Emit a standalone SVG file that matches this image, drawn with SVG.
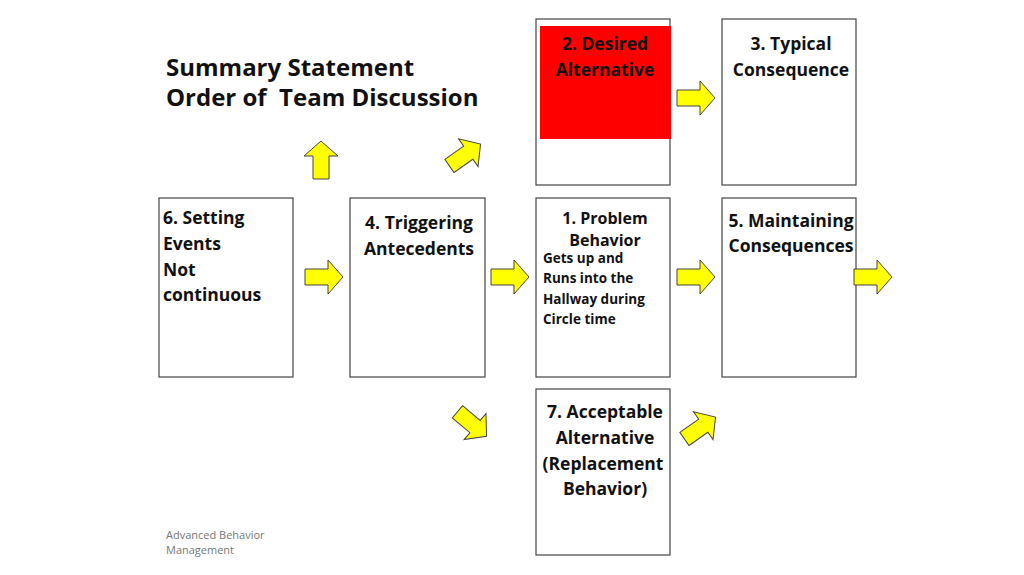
<svg xmlns="http://www.w3.org/2000/svg" width="1024" height="575" viewBox="0 0 1024 575">
<style>
.box{fill:#fff;stroke:#444;stroke-width:1.2}
.arr{fill:#ffff00;stroke:#444;stroke-width:1}
text{font-family:"Open Sans","Liberation Sans",sans-serif;font-weight:bold;fill:#111}
.t{font-size:17.5px}
.s{font-size:13.5px}
.h{font-size:24px}
</style>
<defs>
<path id="ra" class="arr" d="M-19,-8 L4,-8 L4,-17 L19,0 L4,17 L4,8 L-19,8 Z"/>
</defs>
<rect width="1024" height="575" fill="#fff"/>
<text class="h" x="166" y="76">Summary Statement</text>
<text class="h" x="166" y="106" xml:space="preserve">Order of  Team Discussion</text>
<g id="n2"><rect class="box" x="536" y="19" width="134" height="166"/><rect x="540" y="26" width="131" height="113" fill="#ff0000"/>
<text class="t" text-anchor="middle" x="605" y="50">2. Desired</text><text class="t" text-anchor="middle" x="605" y="76">Alternative</text></g>
<g id="n3"><rect class="box" x="722" y="19" width="134" height="166"/>
<text class="t" text-anchor="middle" x="791" y="50">3. Typical</text><text class="t" text-anchor="middle" x="791" y="76">Consequence</text></g>
<g id="n6"><rect class="box" x="159" y="198" width="134" height="179"/>
<text class="t" x="163" y="224">6. Setting</text><text class="t" x="163" y="250">Events</text><text class="t" x="163" y="276">Not</text><text class="t" x="163" y="301">continuous</text></g>
<g id="n4"><rect class="box" x="350" y="198" width="135" height="179"/>
<text class="t" text-anchor="middle" x="419" y="229">4. Triggering</text><text class="t" text-anchor="middle" x="419" y="255">Antecedents</text></g>
<g id="n1"><rect class="box" x="536" y="198" width="134" height="179"/>
<text style="font-size:16px" text-anchor="middle" x="605" y="224">1. Problem</text><text style="font-size:16px" text-anchor="middle" x="605" y="246">Behavior</text>
<text class="s" x="543" y="263">Gets up and</text><text class="s" x="543" y="283">Runs into the</text><text class="s" x="543" y="304">Hallway during</text><text class="s" x="543" y="324">Circle time</text></g>
<g id="n5"><rect class="box" x="722" y="198" width="134" height="179"/>
<text class="t" text-anchor="middle" x="791" y="227">5. Maintaining</text><text class="t" text-anchor="middle" x="791" y="252">Consequences</text></g>
<g id="n7"><rect class="box" x="536" y="389" width="134" height="166"/>
<text class="t" text-anchor="middle" x="605" y="418">7. Acceptable</text><text class="t" text-anchor="middle" x="605" y="444">Alternative</text><text class="t" text-anchor="middle" x="603" y="470">(Replacement</text><text class="t" text-anchor="middle" x="605" y="495">Behavior)</text></g>
<g id="connectors">
<use href="#ra" transform="translate(324,277)"/>
<use href="#ra" transform="translate(510,277)"/>
<use href="#ra" transform="translate(696,277)"/>
<use href="#ra" transform="translate(873,277)"/>
<use href="#ra" transform="translate(696,98)"/>
<use href="#ra" transform="translate(321,160) rotate(-90)"/>
<use href="#ra" transform="translate(465,155) rotate(-35)"/>
<use href="#ra" transform="translate(472,424) rotate(40)"/>
<use href="#ra" transform="translate(700,428) rotate(-35)"/>
</g>
<text x="166" y="539" style="font-weight:normal;font-size:11px;fill:#777">Advanced Behavior</text>
<text x="166" y="554" style="font-weight:normal;font-size:11px;fill:#777">Management</text>
</svg>
